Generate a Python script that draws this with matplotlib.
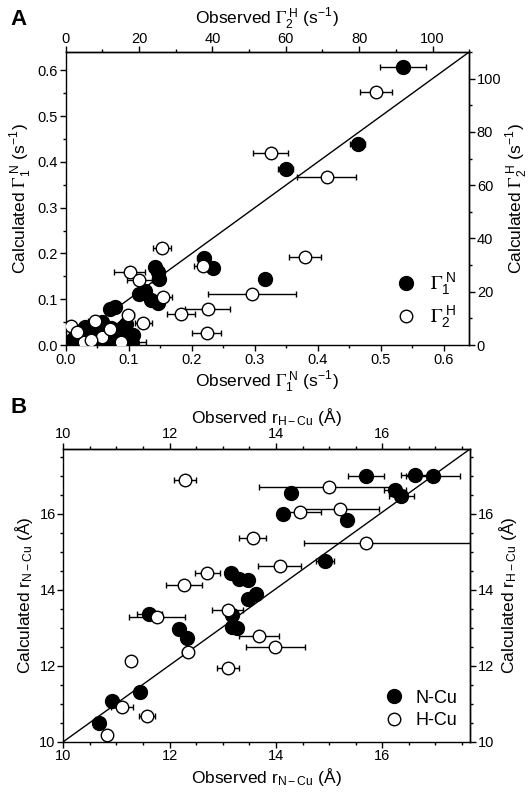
"""
Calculated vs observed PRE rates (A) and Cu distances (B).
"""

import matplotlib
matplotlib.use("Agg")
import matplotlib.pyplot as plt
from matplotlib.ticker import MultipleLocator

plt.rcParams["font.family"] = ["Liberation Sans", "DejaVu Sans"]
plt.rcParams["mathtext.fontset"] = "stix"
plt.rcParams["axes.linewidth"] = 1.0

# --- Panel A: Gamma1 N (bottom / left axes, s^-1) ---
g1_obs = [0.535, 0.463, 0.349, 0.316, 0.219, 0.234, 0.141, 0.146, 0.148,
          0.125, 0.117, 0.136, 0.146, 0.070, 0.078, 0.057, 0.096, 0.091,
          0.107, 0.020, 0.030, 0.040, 0.045, 0.050, 0.055, 0.060, 0.065,
          0.070, 0.075, 0.080, 0.085, 0.090, 0.095, 0.100, 0.035, 0.025,
          0.050, 0.015, 0.060, 0.045, 0.088, 0.105, 0.010, 0.040, 0.030,
          0.065, 0.080, 0.055, 0.020, 0.072, 0.092]
g1_calc = [0.607, 0.439, 0.384, 0.144, 0.191, 0.169, 0.170, 0.160, 0.144,
           0.118, 0.112, 0.098, 0.091, 0.078, 0.082, 0.051, 0.047, 0.040,
           0.022, 0.010, 0.020, 0.030, 0.015, 0.035, 0.025, 0.010, 0.030,
           0.020, 0.005, 0.015, 0.030, 0.035, 0.010, 0.020, 0.005, 0.030,
           0.005, 0.003, 0.040, 0.040, 0.006, 0.005, 0.012, 0.002, 0.040,
           0.004, 0.025, 0.018, 0.020, 0.038, 0.025]
g1_err = [0.036, 0.012, 0.012, 0.006, 0.010, 0.006, 0.005, 0.005, 0.005,
          0.005, 0.005, 0.005, 0.005, 0.005, 0.005, 0.004, 0.005, 0.005,
          0.006, 0.004, 0.004, 0.004, 0.004, 0.004, 0.004, 0.004, 0.004,
          0.004, 0.004, 0.004, 0.004, 0.004, 0.004, 0.004, 0.004, 0.004,
          0.004, 0.004, 0.004, 0.004, 0.004, 0.004, 0.004, 0.004, 0.004,
          0.004, 0.004, 0.004, 0.004, 0.004, 0.004]

# --- Panel A: Gamma2 H (top / right axes, s^-1) ---
g2_obs = [84.6, 71.1, 55.9, 65.2, 50.9, 38.7, 31.4, 38.4, 26.2, 17.5, 20.1,
          37.5, 26.4, 17.1, 21.2, 1.4, 8.0, 15.0, 10.0, 5.0, 3.0, 12.0, 7.0]
g2_calc = [94.9, 62.9, 72.0, 33.1, 19.0, 13.4, 11.6, 4.4, 36.3, 27.5, 24.4,
           29.7, 17.9, 11.3, 8.1, 7.3, 9.0, 1.0, 3.0, 1.0, 5.0, 6.0, 2.0]
g2_err = [4.3, 8.0, 4.8, 4.3, 12.0, 6.2, 3.8, 3.9, 2.5, 4.2, 3.4,
          2.4, 2.5, 1.5, 2.3, 3.0, 2.0, 7.0, 4.0, 3.0, 2.0, 3.0, 2.0]

# --- Panel B: r N-Cu and r H-Cu (Angstrom) ---
rn_obs = [15.69, 16.61, 16.96, 14.29, 16.24, 16.36, 14.14, 15.33, 14.92,
          13.15, 13.31, 13.48, 13.48, 13.62, 11.62, 13.17, 13.17, 13.26,
          12.18, 12.33, 11.44, 10.92, 10.67]
rn_calc = [16.99, 17.02, 16.99, 16.55, 16.62, 16.47, 15.99, 15.83, 14.76,
           14.45, 14.28, 14.26, 13.75, 13.88, 13.35, 13.33, 13.03, 12.98,
           12.97, 12.72, 11.32, 11.07, 10.50]
rn_err = [0.34, 0.25, 0.51, 0.05, 0.20, 0.23, 0.05, 0.05, 0.17,
          0.05, 0.05, 0.05, 0.05, 0.05, 0.23, 0.05, 0.05, 0.05,
          0.05, 0.05, 0.05, 0.05, 0.05]

rh_obs = [12.29, 15.00, 14.45, 15.20, 15.70, 14.07, 13.56, 12.71, 12.27,
          11.76, 13.09, 13.68, 13.99, 12.34, 11.27, 13.10, 11.11, 11.57, 10.82]
rh_calc = [16.89, 16.69, 16.05, 16.12, 15.24, 14.61, 15.35, 14.43, 14.12,
           13.29, 13.47, 12.78, 12.50, 12.35, 12.13, 11.95, 10.91, 10.68, 10.19]
rh_err_lo = [0.20, 1.31, 0.40, 0.73, 1.18, 0.40, 0.26, 0.24, 0.33,
             0.52, 0.29, 0.38, 0.55, 0.10, 0.10, 0.21, 0.21, 0.15, 0.05]
rh_err_hi = [0.20, 1.31, 0.40, 0.73, 2.00, 0.40, 0.26, 0.24, 0.33,
             0.52, 0.29, 0.38, 0.55, 0.10, 0.10, 0.21, 0.21, 0.15, 0.05]

LIM_A1 = (0, 0.64)
LIM_A2 = (0, 110)
XLIM_B = (10, 17.65)
YLIM_B = (10, 17.7)

TICK = 10.5
LABEL = 12.5


def estilo(ax, xmaj, xmin, ymaj, ymin):
    ax.xaxis.set_major_locator(MultipleLocator(xmaj))
    ax.xaxis.set_minor_locator(MultipleLocator(xmin))
    ax.yaxis.set_major_locator(MultipleLocator(ymaj))
    ax.yaxis.set_minor_locator(MultipleLocator(ymin))
    ax.tick_params(which="major", direction="out", length=4, width=1,
                   labelsize=TICK, pad=1.5)
    ax.tick_params(which="minor", direction="out", length=2.5, width=1)


def eixo_espelho(fig, ax, xlim, ylim):
    """Axes on top of ax using the top and right spines."""
    ax2 = fig.add_axes(ax.get_position(), label=f"twin{id(ax)}")
    ax2.patch.set_visible(False)
    ax2.set_xlim(*xlim)
    ax2.set_ylim(*ylim)
    ax2.xaxis.tick_top()
    ax2.xaxis.set_label_position("top")
    ax2.yaxis.tick_right()
    ax2.yaxis.set_label_position("right")
    for s in ("bottom", "left"):
        ax2.spines[s].set_visible(False)
    return ax2


def gama(i, letra):
    return (r"$\Gamma_{\mathregular{%s}}^{\ \mathregular{%s}}$" % (i, letra))


S1 = r"(s$^{\mathregular{-1}}$)"

fig = plt.figure(figsize=(5.32, 7.95), dpi=100)

# ---------------- Panel A ----------------
axA = fig.add_axes([0.1235, 0.566, 0.7585, 0.3686])
axA.set_xlim(*LIM_A1)
axA.set_ylim(*LIM_A1)
axA.plot(LIM_A1, LIM_A1, color="black", linewidth=1.0, zorder=1)
hA1 = axA.errorbar(g1_obs, g1_calc, xerr=g1_err, fmt="o", color="black",
                   markersize=10, mfc="black", mec="black", ecolor="black",
                   elinewidth=1, capsize=2.5, capthick=1, zorder=3)
estilo(axA, 0.1, 0.05, 0.1, 0.05)
axA.xaxis.set_major_formatter(plt.FormatStrFormatter("%.1f"))
axA.yaxis.set_major_formatter(plt.FormatStrFormatter("%.1f"))
axA.set_xlabel("Observed " + gama(1, "N") + " " + S1, fontsize=LABEL,
               labelpad=2)
axA.set_ylabel("Calculated " + gama(1, "N") + " " + S1, fontsize=LABEL,
               labelpad=3)

axA2 = eixo_espelho(fig, axA, LIM_A2, LIM_A2)
hA2 = axA2.errorbar(g2_obs, g2_calc, xerr=g2_err, fmt="o", color="black",
                    markersize=9, mfc="white", mec="black", ecolor="black",
                    elinewidth=1, capsize=2.5, capthick=1, zorder=4)
estilo(axA2, 20, 10, 20, 10)
axA2.tick_params(axis="x", pad=0.5)
axA2.set_xlabel("Observed " + gama(2, "H") + " " + S1, fontsize=LABEL,
                labelpad=6)
axA2.set_ylabel("Calculated " + gama(2, "H") + " " + S1, fontsize=LABEL,
                labelpad=2)
axA2.legend([hA1[0], hA2[0]], [gama(1, "N"), gama(2, "H")],
            loc="lower right", frameon=False, fontsize=14,
            handletextpad=0.2, borderaxespad=0.3, labelspacing=0.3)

fig.text(0.02, 0.975, "A", fontsize=16, fontweight="bold", va="center")

# ---------------- Panel B ----------------
axB = fig.add_axes([0.119, 0.067, 0.7645, 0.3682])
axB.set_xlim(*XLIM_B)
axB.set_ylim(*YLIM_B)
axB.plot(XLIM_B, YLIM_B, color="black", linewidth=1.0, zorder=1)
hB1 = axB.errorbar(rn_obs, rn_calc, xerr=rn_err, fmt="o", color="black",
                   markersize=10, mfc="black", mec="black", ecolor="black",
                   elinewidth=1, capsize=2.5, capthick=1, zorder=3)
hB2 = axB.errorbar(rh_obs, rh_calc, xerr=[rh_err_lo, rh_err_hi], fmt="o",
                   color="black", markersize=9, mfc="white", mec="black",
                   ecolor="black", elinewidth=1, capsize=2.5, capthick=1,
                   zorder=4)
estilo(axB, 2, 0.5, 2, 0.5)
axB.set_xlabel(r"Observed r$_{\mathregular{N-Cu}}$ (Å)", fontsize=LABEL,
               labelpad=2)
axB.set_ylabel(r"Calculated r$_{\mathregular{N-Cu}}$ (Å)", fontsize=LABEL,
               labelpad=3)
axB.legend([hB1[0], hB2[0]], ["N-Cu", "H-Cu"], loc="lower right",
           frameon=False, fontsize=13, handletextpad=0.2,
           borderaxespad=0.3, labelspacing=0.3)

axB2 = eixo_espelho(fig, axB, XLIM_B, YLIM_B)
estilo(axB2, 2, 0.5, 2, 0.5)
axB2.set_xlabel(r"Observed r$_{\mathregular{H-Cu}}$ (Å)", fontsize=LABEL,
                labelpad=3)
axB2.set_ylabel(r"Calculated r$_{\mathregular{H-Cu}}$ (Å)", fontsize=LABEL,
                labelpad=2)

fig.text(0.02, 0.487, "B", fontsize=16, fontweight="bold", va="center")

fig.savefig("out.png", dpi=100)
